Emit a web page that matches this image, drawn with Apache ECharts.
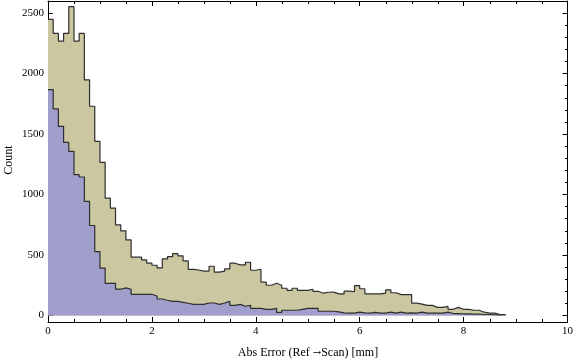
<!DOCTYPE html>
<html>
<head>
<meta charset="utf-8">
<script src="https://cdn.jsdelivr.net/npm/echarts@6/dist/echarts.min.js"></script>
<style>
html,body{margin:0;padding:0;background:#fff;}
#chart{width:576px;height:362px;}
</style>
</head>
<body>
<div id="chart"></div>
<script>
// Histogram bin width (mm)
const binWidth = 0.1;
// Outer (tan) histogram counts, bins starting at 0, 0.1, 0.2, ...
const tanCounts = [2448,2332,2268,2332,2553,2268,2332,1948,1730,1440,
 1266,971,888,749,700,625,482,482,459,432,
 415,393,468,487,512,493,451,381,376,366,
 366,407,358,366,385,432,418,418,440,374,
 382,275,250,266,250,225,208,225,208,208,
 217,200,184,192,193,179,179,201,196,246,
 221,179,179,179,185,212,188,172,172,172,
 102,94,83,83,67,67,75,51,67,51,
 51,43,43,27,19,19,8,8];
// Inner (blue) histogram counts
const blueCounts = [1868,1708,1564,1431,1357,1164,1145,943,744,528,
 391,266,266,217,228,217,175,175,175,175,
 161,136,126,117,117,109,101,92,92,92,
 103,103,92,103,117,84,92,76,84,59,
 59,51,51,59,26,43,43,43,51,59,
 59,59,35,35,35,30,22,19,19,27,
 22,19,25,19,19,27,19,27,19,22,
 19,27,19,19,19,19,27,16,16,14,
 14,11,11,8,8,6,5,5];
// Tick values
const xMajorTicks = [0,2,4,6,8,10];
const xMinorTicks = [0.5,1,1.5,2.5,3,3.5,4.5,5,5.5,6.5,7,7.5,8.5,9,9.5];
const yMajorTicks = [0,500,1000,1500,2000,2500];
const yMinorTicks = [100,200,300,400,600,700,800,900,1100,1200,1300,1400,1600,1700,1800,1900,2100,2200,2300,2400,2600];

const FONT = '"Liberation Serif","Times New Roman",serif';
const X_MIN = 0, X_MAX = 10, Y_MIN = -54, Y_MAX = 2600;

function stepData(counts){
  const pts = counts.map((c,i)=>[i*binWidth, c]);
  const end = counts.length*binWidth;
  pts.push([end, counts[counts.length-1]]);
  pts.push([end, 0]);
  return pts;
}

function makeAxis(grid, pos, ticks, len, labels, min, max){
  return {
    gridIndex: grid, type:'value', position: pos, min:min, max:max,
    axisLine:{show: grid===0, onZero:false, lineStyle:{color:'#000', width:1}},
    axisTick:{show:true, inside:true, length:len, customValues:ticks, lineStyle:{color:'#000', width:1}},
    axisLabel:{show:labels, customValues:ticks, fontFamily:FONT, fontSize:11, color:'#000', margin:4,
               formatter:function(v){ return String(v); }},
    splitLine:{show:false}
  };
}

const chart = echarts.init(document.getElementById('chart'), null, {renderer:'canvas'});
const gridRect = {left:48, right:8, top:1, bottom:40};
chart.setOption({
  animation:false,
  backgroundColor:'#fff',
  grid:[Object.assign({}, gridRect), Object.assign({}, gridRect)],
  xAxis:[
    makeAxis(0,'bottom',xMajorTicks,5,true,X_MIN,X_MAX),
    makeAxis(0,'top',xMajorTicks,5,false,X_MIN,X_MAX),
    makeAxis(1,'bottom',xMinorTicks,3,false,X_MIN,X_MAX),
    makeAxis(1,'top',xMinorTicks,3,false,X_MIN,X_MAX)
  ],
  yAxis:[
    makeAxis(0,'left',yMajorTicks,5,true,Y_MIN,Y_MAX),
    makeAxis(0,'right',yMajorTicks,5,false,Y_MIN,Y_MAX),
    makeAxis(1,'left',yMinorTicks,3,false,Y_MIN,Y_MAX),
    makeAxis(1,'right',yMinorTicks,3,false,Y_MIN,Y_MAX)
  ],
  series:[
    {type:'line', xAxisIndex:0, yAxisIndex:0, data:stepData(tanCounts), step:'end',
     symbol:'none', lineStyle:{color:'#2e2e2e', width:1.2},
     areaStyle:{color:'#cbc7a1', opacity:1}, z:2},
    {type:'line', xAxisIndex:0, yAxisIndex:0, data:stepData(blueCounts), step:'end',
     symbol:'none', lineStyle:{color:'#2e2e2e', width:1.2},
     areaStyle:{color:'#a09ecb', opacity:1}, z:3}
  ],
  graphic:[
    {type:'text', x:308, y:353, style:{
      text:'{a|Abs Error (Ref }{b|\u2192}{a|Scan) [mm]}',
      rich:{
        a:{fontFamily:FONT, fontSize:12, fill:'#000'},
        b:{fontFamily:'"DejaVu Serif",serif', fontSize:10, fill:'#000'}
      },
      align:'center', verticalAlign:'middle'}},
    {type:'text', x:9, y:160, rotation:Math.PI/2, style:{text:'Count', font:'12px ' + FONT, fill:'#000', align:'center', verticalAlign:'middle'}}
  ]
});
</script>
</body>
</html>
